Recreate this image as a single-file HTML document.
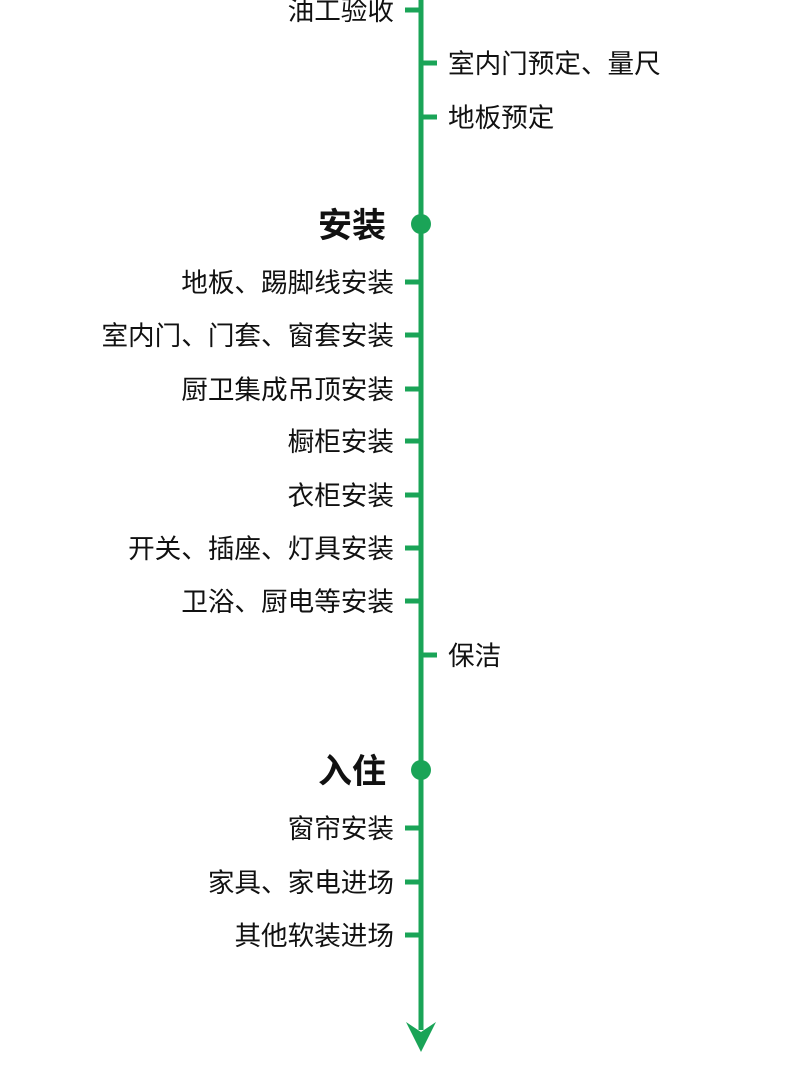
<!DOCTYPE html>
<html><head><meta charset="utf-8"><style>
html,body{margin:0;padding:0;background:#fff;}
body{width:810px;height:1080px;position:relative;overflow:hidden;font-family:"Liberation Sans","Noto Sans CJK SC",sans-serif;color:#111;}
.l,.r,.h{position:absolute;font-size:26.6px;line-height:30px;white-space:nowrap;}
.l{right:416px;text-align:right;}
.r{left:448px;}
.h{right:424px;font-size:34px;font-weight:bold;line-height:40px;}
</style></head><body>
<svg width="810" height="1080" style="position:absolute;left:0;top:0">
<g stroke="#1aa457" stroke-width="5" fill="#1aa457">
<line x1="421" y1="0" x2="421" y2="1030"/>
<line x1="405" y1="10" x2="421" y2="10"/>
<line x1="421" y1="63" x2="437" y2="63"/>
<line x1="421" y1="117" x2="437" y2="117"/>
<line x1="405" y1="282" x2="421" y2="282"/>
<line x1="405" y1="335" x2="421" y2="335"/>
<line x1="405" y1="389" x2="421" y2="389"/>
<line x1="405" y1="441" x2="421" y2="441"/>
<line x1="405" y1="495" x2="421" y2="495"/>
<line x1="405" y1="548" x2="421" y2="548"/>
<line x1="405" y1="601" x2="421" y2="601"/>
<line x1="421" y1="655" x2="437" y2="655"/>
<line x1="405" y1="828" x2="421" y2="828"/>
<line x1="405" y1="882" x2="421" y2="882"/>
<line x1="405" y1="935" x2="421" y2="935"/>
<circle cx="421" cy="224" r="10" stroke="none"/>
<circle cx="421" cy="770" r="10" stroke="none"/>
<polygon points="406,1022 421,1032 436,1022 421,1052" stroke="none"/>
</g></svg>
<div class="l" style="top:-4px">油工验收</div>
<div class="r" style="top:49px">室内门预定、量尺</div>
<div class="r" style="top:103px">地板预定</div>
<div class="h" style="top:206px">安装</div>
<div class="l" style="top:268px">地板、踢脚线安装</div>
<div class="l" style="top:321px">室内门、门套、窗套安装</div>
<div class="l" style="top:375px">厨卫集成吊顶安装</div>
<div class="l" style="top:427px">橱柜安装</div>
<div class="l" style="top:481px">衣柜安装</div>
<div class="l" style="top:534px">开关、插座、灯具安装</div>
<div class="l" style="top:587px">卫浴、厨电等安装</div>
<div class="r" style="top:641px">保洁</div>
<div class="h" style="top:752px">入住</div>
<div class="l" style="top:814px">窗帘安装</div>
<div class="l" style="top:868px">家具、家电进场</div>
<div class="l" style="top:921px">其他软装进场</div>
</body></html>
